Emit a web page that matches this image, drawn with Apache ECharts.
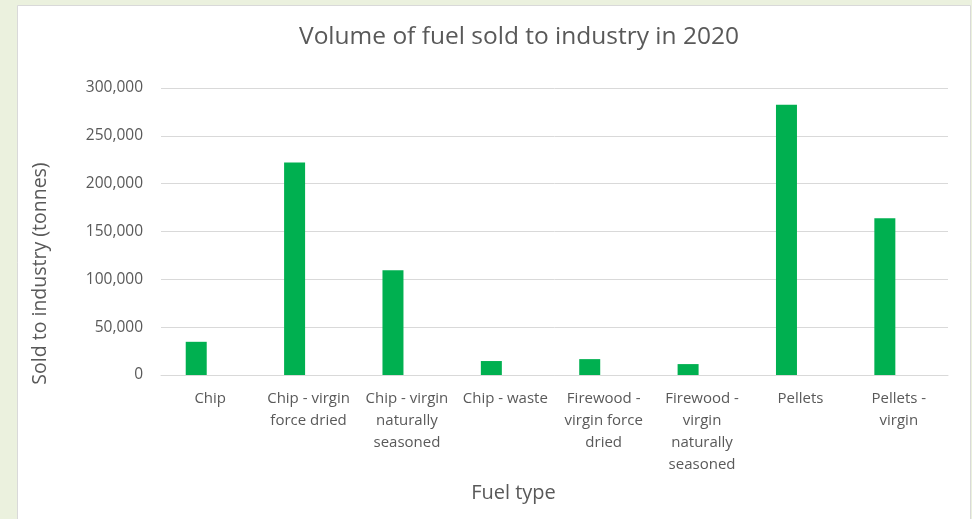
<!DOCTYPE html>
<html>
<head>
<meta charset="utf-8">
<script src="https://cdn.jsdelivr.net/npm/echarts@6/dist/echarts.min.js"></script>
<style>
  html, body { margin: 0; padding: 0; background: #EBF1DE; }
  #chart { width: 972px; height: 519px; }
</style>
</head>
<body>
<div id="chart"></div>
<script>
// fuel types (x axis)
const categories = [
  'Chip',
  'Chip - virgin force dried',
  'Chip - virgin naturally seasoned',
  'Chip - waste',
  'Firewood - virgin force dried',
  'Firewood - virgin naturally seasoned',
  'Pellets',
  'Pellets - virgin'
];
// how the labels wrap under the axis
const tickLabels = [
  'Chip',
  'Chip - virgin\nforce dried',
  'Chip - virgin\nnaturally\nseasoned',
  'Chip - waste',
  'Firewood -\nvirgin force\ndried',
  'Firewood -\nvirgin\nnaturally\nseasoned',
  'Pellets',
  'Pellets -\nvirgin'
];
// tonnes sold to industry
const soldToIndustry = [34700, 222000, 109400, 14600, 16600, 11400, 282600, 163800];
// second (empty) series of the source sheet, it only takes up its slot
const emptySeries = [];

const yTicks = [0, 50000, 100000, 150000, 200000, 250000, 300000];

const font = '"Open Sans", sans-serif';
const textColor = '#595959';

const myChart = echarts.init(document.getElementById('chart'));

const option = {
  animation: false,
  backgroundColor: '#EBF1DE',
  textStyle: { fontFamily: font },
  graphic: [
    {
      type: 'rect',
      z: -10,
      shape: { x: 17.5, y: 5.5, width: 953, height: 530 },
      style: { fill: '#ffffff', stroke: '#d9d9d9', lineWidth: 1 }
    }
  ],
  title: {
    text: 'Volume of fuel sold to industry in 2020',
    left: 514,
    textAlign: 'center',
    top: 20,
    textStyle: {
      fontFamily: font,
      fontSize: 24.5,
      fontWeight: 'normal',
      color: textColor
    }
  },
  grid: {
    left: 161,
    right: 24,
    top: 88,
    bottom: 144
  },
  xAxis: {
    type: 'category',
    data: categories,
    name: 'Fuel type',
    nameLocation: 'middle',
    nameGap: 108,
    nameTextStyle: {
      fontSize: 20,
      color: textColor,
      fontFamily: font,
      padding: [0, 82, 0, 0]
    },
    axisLine: { show: true, lineStyle: { color: '#d9d9d9', width: 1 } },
    axisTick: { show: false },
    axisLabel: {
      interval: 0,
      margin: 13,
      fontSize: 15,
      lineHeight: 22,
      color: textColor,
      verticalAlign: 'top',
      formatter: (val, idx) => tickLabels[idx]
    }
  },
  yAxis: {
    type: 'value',
    min: yTicks[0],
    max: yTicks[yTicks.length - 1],
    interval: 50000,
    name: 'Sold to industry (tonnes)',
    nameLocation: 'middle',
    nameGap: 111,
    nameTextStyle: {
      fontSize: 19.5,
      color: textColor,
      fontFamily: font,
      padding: [0, 84, 0, 0]
    },
    axisLine: { show: false },
    axisTick: { show: false },
    splitLine: { lineStyle: { color: '#d9d9d9', width: 1 } },
    axisLabel: {
      margin: 18,
      fontSize: 15.5,
      color: textColor,
      formatter: v => v.toLocaleString('en-US')
    }
  },
  series: [
    {
      name: 'Sold to industry',
      type: 'bar',
      data: soldToIndustry,
      barWidth: 21,
      barGap: '33%',
      itemStyle: { color: '#00B050' }
    },
    {
      name: 'empty',
      type: 'bar',
      data: emptySeries,
      barWidth: 21,
      itemStyle: { color: '#00B050' }
    }
  ]
};

myChart.setOption(option);
</script>
</body>
</html>
